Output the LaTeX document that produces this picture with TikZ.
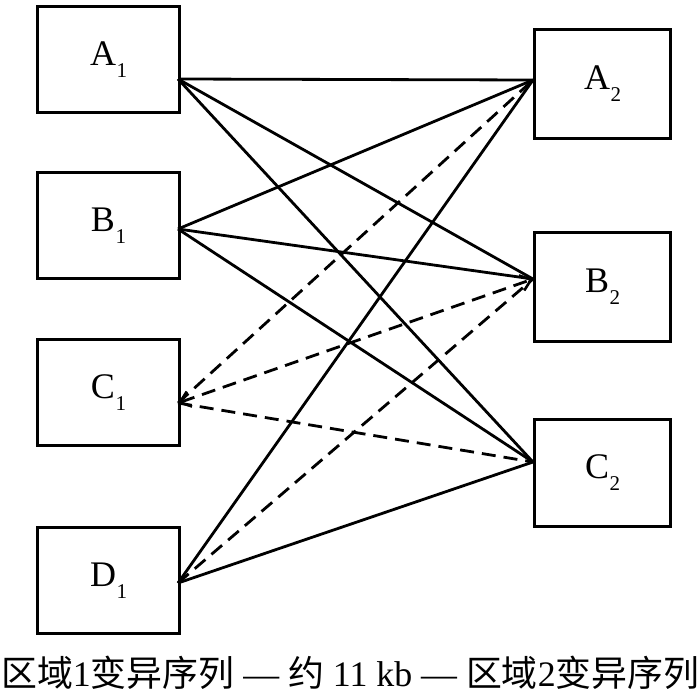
\documentclass[tikz,border=0pt]{standalone}
\usepackage{fontspec}
\setmainfont{Liberation Serif}
\newfontfamily\cjk{Noto Sans CJK SC}
\usetikzlibrary{arrows.meta}
\tikzset{
  boxnode/.style={draw, line width=3pt, minimum width=142pt, minimum height=106pt, inner sep=0pt, anchor=north west, font=\fontsize{36}{40}\selectfont},
  conn/.style={line width=2.8pt},
  dconn/.style={line width=2.8pt, dash pattern=on 14pt off 8pt},
  barb/.tip={Straight Barb[length=10pt,width=16pt,line width=2.6pt]}
}
\newcommand{\lab}[2]{#1\kern0.5pt\raisebox{-12pt}{\fontsize{21}{24}\selectfont #2}}
\begin{document}
\begin{tikzpicture}[x=1pt,y=-1pt]
\useasboundingbox (0,0) rectangle (700,693);
\node[boxnode] (A1) at (36,5) {\lab{A}{1}};
\node[boxnode] (B1) at (36,171) {\lab{B}{1}};
\node[boxnode] (C1) at (36,338) {\lab{C}{1}};
\node[boxnode] (D1) at (36,526) {\lab{D}{1}};
\node[boxnode, minimum width=136pt, minimum height=109pt] (A2) at (533,28) {\lab{A}{2}};
\node[boxnode, minimum width=136pt, minimum height=109pt] (B2) at (533,231) {\lab{B}{2}};
\node[boxnode, minimum width=136pt, minimum height=107pt] (C2) at (533,418) {\lab{C}{2}};
\coordinate (pA1) at (178,79);
\coordinate (pB1) at (178,229);
\coordinate (pC1) at (178,403);
\coordinate (pD1) at (178,583);
\coordinate (pA2) at (533,80);
\coordinate (pB2) at (533,279);
\coordinate (pC2) at (533,462);
\draw[conn] (pA1) -- (pA2);
\draw[conn] (pA1) -- (pB2);
\draw[conn] (pA1) -- (pC2);
\draw[conn] (pB1) -- (pA2);
\draw[conn] (pB1) -- (pB2);
\draw[conn] (pB1) -- (pC2);
\draw[conn] (pD1) -- (pA2);
\draw[conn] (pD1) -- (pC2);
\draw[dconn] (pC1) -- (pA2);
\draw[dconn] (pC1) -- (pC2);
\draw[dconn] (pD1) -- (pB2);
\draw[dconn, barb-barb] (pC1) -- (pB2);
\node[inner sep=0pt, anchor=base west] (cap) at (1,686) {\resizebox{698pt}{!}{\fontsize{40}{44}\selectfont{\cjk 区域}1{\cjk 变异序列} — {\cjk 约} 11 kb — {\cjk 区域}2{\cjk 变异序列}}};
\end{tikzpicture}
\end{document}
